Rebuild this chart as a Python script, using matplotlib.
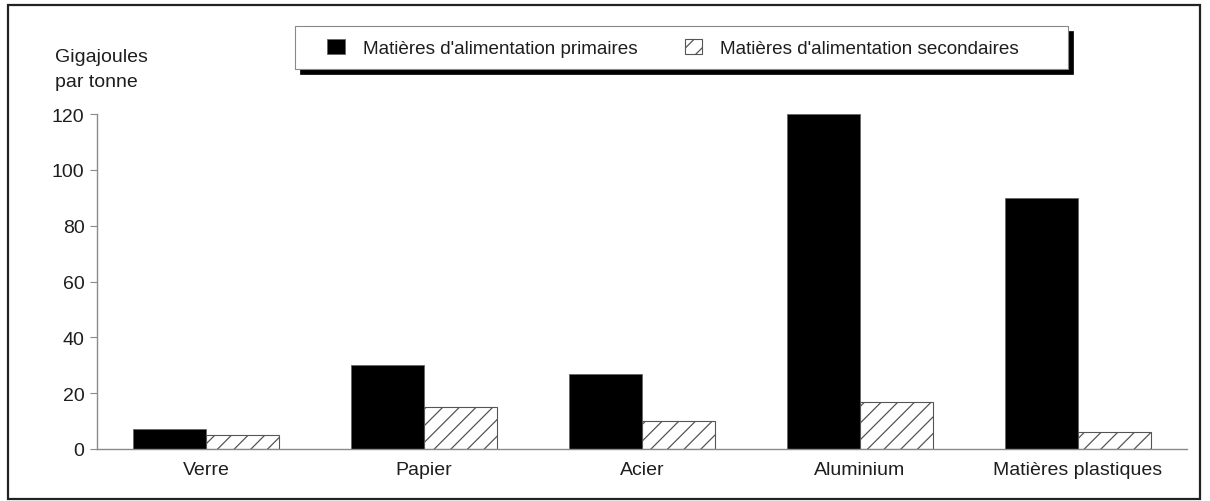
import matplotlib
matplotlib.use("Agg")
import matplotlib.pyplot as plt
from matplotlib.patches import Rectangle, Patch
import numpy as np

plt.rcParams['font.family'] = ['Liberation Sans', 'DejaVu Sans']
plt.rcParams['hatch.linewidth'] = 0.9

categories = ["Verre", "Papier", "Acier", "Aluminium", "Matières plastiques"]
primaires = [7, 30, 27, 120, 90]
secondaires = [5, 15, 10, 17, 6]
yticks = [0, 20, 40, 60, 80, 100, 120]
series_names = ["Matières d'alimentation primaires", "Matières d'alimentation secondaires"]

W, H = 1210, 502
fig = plt.figure(figsize=(W / 100, H / 100), dpi=100)

def fx(px):
    return px / W

def fy(py):
    return 1 - py / H

FS = 14
txt = '#1e1e1e'

# outer frame
fig.patches.append(Rectangle((fx(8), fy(500)), fx(1200) - fx(8), fy(6) - fy(500),
                             transform=fig.transFigure, fill=False,
                             edgecolor='#222222', linewidth=1.6))

ax = fig.add_axes([fx(97), fy(450), fx(1187) - fx(97), fy(115) - fy(450)])
x = np.arange(len(categories))
w = 0.335
gray = '#8a8a8a'
ax.bar(x - w / 2, primaires, width=w, color='black', edgecolor='#666666', linewidth=0.6)
ax.bar(x + w / 2, secondaires, width=w, color='white', edgecolor='#555555',
       linewidth=0.8, hatch='//')

ax.set_xlim(-0.5, len(categories) - 0.5)
ax.set_ylim(0, 120)
ax.set_yticks(yticks)
ax.set_xticks(x)
ax.set_xticklabels(categories, fontsize=FS, color=txt)
ax.tick_params(axis='x', length=0, pad=9)
ax.tick_params(axis='y', length=5, color=gray, labelsize=FS, labelcolor=txt, pad=4)
for s in ['top', 'right']:
    ax.spines[s].set_visible(False)
for s in ['left', 'bottom']:
    ax.spines[s].set_color(gray)
    ax.spines[s].set_linewidth(1.0)

fig.text(fx(55), fy(62), "Gigajoules", ha='left', va='baseline', fontsize=FS, color=txt)
fig.text(fx(55), fy(87), "par tonne", ha='left', va='baseline', fontsize=FS, color=txt)

# legend box with shadow
lx0, ly0, lx1, ly1 = 295, 27, 1068, 70
fig.patches.append(Rectangle((fx(lx0 + 5), fy(ly1 + 5)), fx(lx1) - fx(lx0), fy(ly0) - fy(ly1),
                             transform=fig.transFigure, facecolor='black', edgecolor='black',
                             linewidth=0.5, zorder=1))
fig.patches.append(Rectangle((fx(lx0), fy(ly1)), fx(lx1) - fx(lx0), fy(ly0) - fy(ly1),
                             transform=fig.transFigure, facecolor='white', edgecolor='#888888',
                             linewidth=0.8, zorder=2))
handles = [Patch(facecolor='black', edgecolor='#666666', linewidth=0.6),
           Patch(facecolor='white', edgecolor='#555555', linewidth=0.8, hatch='//')]
leg = fig.legend(handles, series_names, loc='center', bbox_to_anchor=(fx(673), fy(49)),
                 ncol=2, frameon=False, fontsize=13.6, handlelength=0.95, handleheight=0.87,
                 handletextpad=0.95, columnspacing=2.5, borderpad=0, borderaxespad=0)
for t in leg.get_texts():
    t.set_color(txt)
leg.set_zorder(3)

fig.savefig("out.png", dpi=100)
